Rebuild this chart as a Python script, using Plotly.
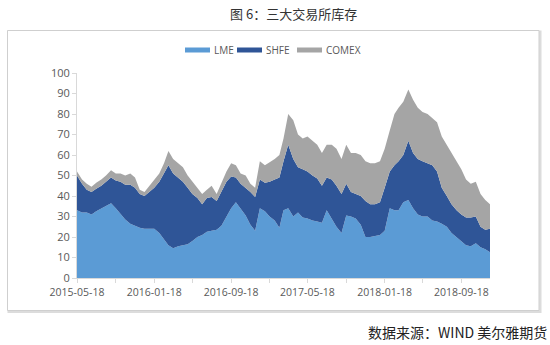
import plotly.graph_objects as go

# ---- data (10k tonnes), semi-monthly readings ----
dates = [
    "2015-05-18", "2015-06-03", "2015-06-18", "2015-07-03", "2015-07-18", "2015-08-03", "2015-08-18", "2015-09-03",
    "2015-09-18", "2015-10-03", "2015-10-18", "2015-11-03", "2015-11-18", "2015-12-03", "2015-12-18", "2016-01-03",
    "2016-01-18", "2016-02-03", "2016-02-18", "2016-03-03", "2016-03-18", "2016-04-03", "2016-04-18", "2016-05-03",
    "2016-05-18", "2016-06-03", "2016-06-18", "2016-07-03", "2016-07-18", "2016-08-03", "2016-08-18", "2016-09-03",
    "2016-09-18", "2016-10-03", "2016-10-18", "2016-11-03", "2016-11-18", "2016-12-03", "2016-12-18", "2017-01-03",
    "2017-01-18", "2017-02-03", "2017-02-18", "2017-03-03", "2017-03-18", "2017-04-03", "2017-04-18", "2017-05-03",
    "2017-05-18", "2017-06-03", "2017-06-18", "2017-07-03", "2017-07-18", "2017-08-03", "2017-08-18", "2017-09-03",
    "2017-09-18", "2017-10-03", "2017-10-18", "2017-11-03", "2017-11-18", "2017-12-03", "2017-12-18", "2018-01-03",
    "2018-01-18", "2018-02-03", "2018-02-18", "2018-03-03", "2018-03-18", "2018-04-03", "2018-04-18", "2018-05-03",
    "2018-05-18", "2018-06-03", "2018-06-18", "2018-07-03", "2018-07-18", "2018-08-03", "2018-08-18", "2018-09-03",
    "2018-09-18", "2018-10-03", "2018-10-18", "2018-11-03", "2018-11-18", "2018-12-03", "2018-12-18",
]

lme = [
    33, 32, 32, 31, 32.5, 34, 35, 36.5,
    34, 31, 28.5, 26.5, 25.5, 24.5, 24, 24,
    24, 22, 19, 16, 14.5, 15.5, 16, 16.5,
    18, 20, 21, 22.5, 23, 23.5, 25.5, 30,
    34, 37, 34, 30.5, 26, 23, 34, 32.5,
    30, 28, 24.5, 33, 34, 30, 32, 29.5,
    29, 28, 27.5, 27, 33, 29, 25, 22,
    30.5, 30, 29, 26, 20, 20, 20.5, 21,
    23, 34, 33, 33, 37, 38, 34, 31,
    30, 30, 28, 27.5, 26.5, 25, 22, 20,
    18, 16, 15.5, 17, 15, 14, 12.5,
]

shfe = [
    17, 14, 11, 11, 11, 11, 12, 12.5,
    13.5, 16, 17, 19, 18.5, 16.5, 16, 18,
    20, 25, 32, 39, 36.5, 33.5, 31, 27.5,
    23, 19, 15, 16.5, 16.5, 14, 16.5, 17,
    15.5, 12, 12, 13.5, 16, 16.5, 14, 14,
    17, 20, 24.5, 24, 31, 28, 22, 23.5,
    23, 22, 21, 18, 16, 19, 20, 19,
    15.5, 12, 12, 14, 17.5, 16, 15.5, 16,
    21, 18, 22, 24, 23, 29, 27, 27,
    27, 26, 27, 24.5, 17.5, 15, 14, 13,
    13, 13.5, 14, 13, 10, 9.5, 11.5,
]

comex = [
    2, 2, 3, 2.5, 3, 3, 3, 3.5,
    3.5, 4, 4.5, 5.5, 5, 2, 2, 3,
    4, 4, 5, 7, 7, 7, 7, 6,
    6, 5, 5, 4, 5.5, 3.5, 4, 5,
    6.5, 6, 5, 6, 4, 4.5, 9, 8.5,
    9.5, 10, 11, 11, 15, 19, 16, 15,
    17, 17, 16.5, 16, 16, 17, 18, 17,
    19, 19, 20, 20, 19.5, 20, 20, 20,
    19, 20, 25, 26, 26, 25, 26, 25,
    24, 24, 23, 24, 25, 25, 25, 24,
    22, 18.5, 16.5, 17, 16, 14.5, 12,
]

series_names = ["LME", "SHFE", "COMEX"]
series_colors = ["#5B9BD5", "#2F5597", "#A5A5A5"]

tick_dates = ["2015-05-18", "2016-01-18", "2016-09-18", "2017-05-18", "2018-01-18", "2018-09-18"]
tick_labels = ["2015-05-18", "2016-01-18", "2016-09-18", "2017-05-18", "2018-01-18", "2018-09-18"]

title_text = "图 6：三大交易所库存"
source_text = "数据来源：WIND 美尔雅期货"

# ---- figure ----
fig = go.Figure()
for name, vals, col in zip(series_names, [lme, shfe, comex], series_colors):
    fig.add_trace(go.Scatter(
        x=dates, y=vals, name=name, mode="lines", stackgroup="one",
        line=dict(width=0, color=col), fillcolor=col, hoverinfo="x+y+name",
        showlegend=False,
    ))

# plot area in pixels: x 77..490, y 73..278
L, R, T, B = 77, 60, 73, 67
W, H = 550, 345
pw, ph = W - L - R, H - T - B

def px(x):
    return (x - L) / pw

def py(y):
    return (H - B - y) / ph

shapes = [
    # soft shadow
    dict(type="rect", xref="paper", yref="paper", layer="below",
         x0=px(8.5), x1=px(540.5), y0=py(312), y1=py(31.5),
         line=dict(color="#dcdcdc", width=2), fillcolor="#e2e2e2"),
    # box
    dict(type="rect", xref="paper", yref="paper", layer="below",
         x0=px(7.5), x1=px(539), y0=py(310.5), y1=py(30.5),
         line=dict(color="#cfcfcf", width=1), fillcolor="white"),
]

annotations = [
    dict(text=title_text, xref="paper", yref="paper", x=px(293.5), y=py(13.5),
         xanchor="center", yanchor="middle", showarrow=False,
         font=dict(family="Noto Sans CJK SC", size=13, color="#333333")),
    dict(text=source_text, xref="paper", yref="paper", x=px(549), y=py(331.5),
         xanchor="right", yanchor="middle", showarrow=False,
         font=dict(family="Noto Sans CJK SC", size=14, color="#222222")),
]

# legend built from the series names/colours
legend_swatch_x = [185, 237, 297]
for name, col, sx in zip(series_names, series_colors, legend_swatch_x):
    shapes.append(dict(type="rect", xref="paper", yref="paper",
                       x0=px(sx), x1=px(sx + 25), y0=py(52.5), y1=py(47.5),
                       line=dict(width=0), fillcolor=col))
    annotations.append(dict(text=name, xref="paper", yref="paper", x=px(sx + 27), y=py(50),
                            xanchor="left", yanchor="middle", showarrow=False,
                            font=dict(family="Open Sans", size=10, color="#595959")))

fig.update_layout(
    width=W, height=H,
    margin=dict(l=L, r=R, t=T, b=B, pad=0),
    paper_bgcolor="white", plot_bgcolor="rgba(0,0,0,0)",
    font=dict(family="Open Sans", size=11, color="#595959"),
    shapes=shapes, annotations=annotations,
    showlegend=False,
    xaxis=dict(type="date", range=["2015-05-18", "2018-12-18"],
               tickmode="array", tickvals=tick_dates, ticktext=tick_labels,
               showgrid=False, zeroline=False, showline=True, linecolor="#d9d9d9", linewidth=1,
               ticks="outside", ticklen=4, tickcolor="#d9d9d9",
               minor=dict(ticks="outside", dtick="M4", tick0="2015-05-18", ticklen=4,
                          tickcolor="#d9d9d9", showgrid=False),
               tickfont=dict(family="Open Sans", size=10.5, color="#595959")),
    yaxis=dict(range=[0, 100], dtick=10, tick0=0,
               showgrid=False, zeroline=False, showline=True, linecolor="#d9d9d9", linewidth=1,
               ticks="outside", ticklen=4, tickcolor="#d9d9d9",
               tickfont=dict(family="Open Sans", size=11, color="#595959")),
)

fig.write_html("out.html")
